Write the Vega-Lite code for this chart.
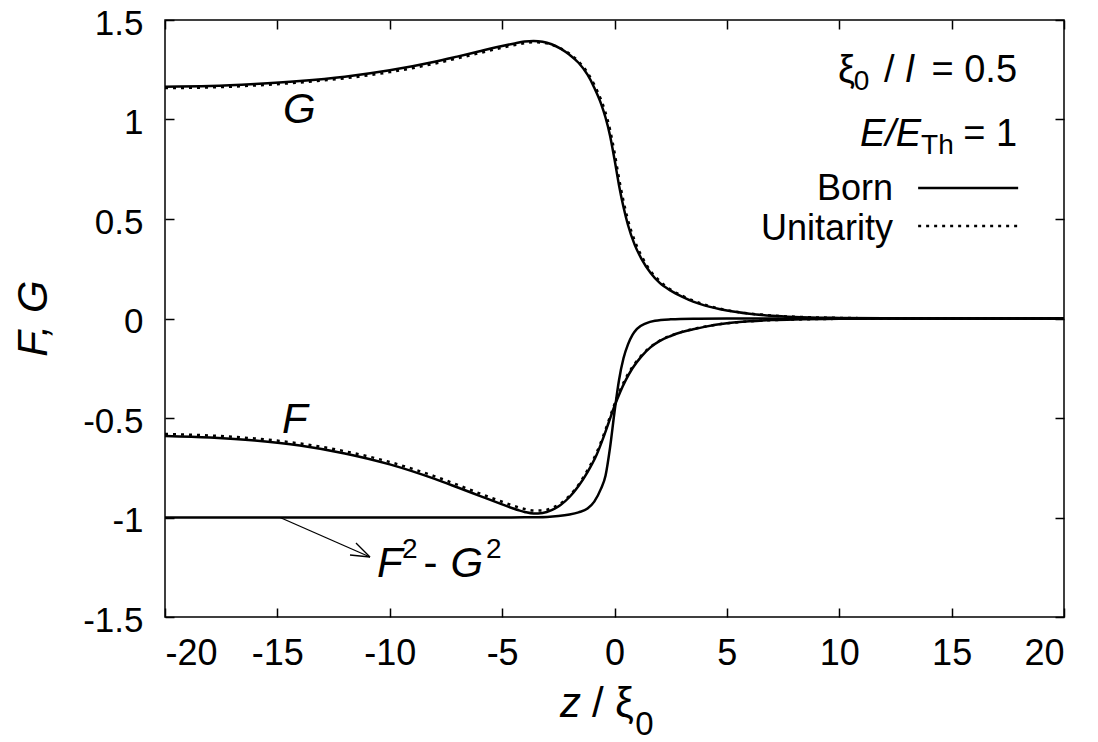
{
  "$schema": "https://vega.github.io/schema/vega-lite/v6.json",
  "width": 899,
  "height": 597,
  "autosize": {"type": "none"},
  "padding": {"left": 165, "top": 20, "right": 34, "bottom": 125},
  "background": "white",
  "config": {
    "view": {"stroke": "black", "strokeWidth": 1.5},
    "font": "Liberation Sans",
    "text": {"font": "Liberation Sans", "color": "black"},
    "axis": {"grid": false, "domain": false, "ticks": true, "tickSize": -9, "tickColor": "black", "tickWidth": 1.5, "labelFont": "Liberation Sans", "labelColor": "black"}
  },
  "resolve": {"axis": {"x": "independent", "y": "independent"}},
  "datasets": {
    "born": [
      {"s": "G", "z": -20, "v": 1.165}, {"s": "G", "z": -18, "v": 1.168}, {"s": "G", "z": -16, "v": 1.178}, {"s": "G", "z": -14, "v": 1.193},
      {"s": "G", "z": -12, "v": 1.215}, {"s": "G", "z": -10, "v": 1.247}, {"s": "G", "z": -8, "v": 1.29}, {"s": "G", "z": -7, "v": 1.316},
      {"s": "G", "z": -6, "v": 1.343}, {"s": "G", "z": -5, "v": 1.369}, {"s": "G", "z": -4.5, "v": 1.381}, {"s": "G", "z": -4, "v": 1.392},
      {"s": "G", "z": -3.6, "v": 1.395}, {"s": "G", "z": -3.2, "v": 1.391}, {"s": "G", "z": -2.8, "v": 1.378}, {"s": "G", "z": -2.4, "v": 1.356},
      {"s": "G", "z": -2.0, "v": 1.325}, {"s": "G", "z": -1.6, "v": 1.285}, {"s": "G", "z": -1.2, "v": 1.225}, {"s": "G", "z": -0.9, "v": 1.16},
      {"s": "G", "z": -0.6, "v": 1.08}, {"s": "G", "z": -0.4, "v": 1.01}, {"s": "G", "z": -0.2, "v": 0.92}, {"s": "G", "z": 0, "v": 0.8},
      {"s": "G", "z": 0.2, "v": 0.67}, {"s": "G", "z": 0.4, "v": 0.56}, {"s": "G", "z": 0.6, "v": 0.47}, {"s": "G", "z": 0.9, "v": 0.37},
      {"s": "G", "z": 1.2, "v": 0.3}, {"s": "G", "z": 1.6, "v": 0.23}, {"s": "G", "z": 2.0, "v": 0.18}, {"s": "G", "z": 2.5, "v": 0.14},
      {"s": "G", "z": 3, "v": 0.11}, {"s": "G", "z": 3.5, "v": 0.085}, {"s": "G", "z": 4, "v": 0.066}, {"s": "G", "z": 5, "v": 0.04},
      {"s": "G", "z": 6, "v": 0.024}, {"s": "G", "z": 7, "v": 0.014}, {"s": "G", "z": 8, "v": 0.008}, {"s": "G", "z": 10, "v": 0.003},
      {"s": "G", "z": 12, "v": 0.001}, {"s": "G", "z": 14, "v": 0}, {"s": "G", "z": 20, "v": 0},
      {"s": "F", "z": -20, "v": -0.59}, {"s": "F", "z": -18, "v": -0.598}, {"s": "F", "z": -16, "v": -0.613}, {"s": "F", "z": -14, "v": -0.638},
      {"s": "F", "z": -12, "v": -0.678}, {"s": "F", "z": -10, "v": -0.733}, {"s": "F", "z": -8, "v": -0.806}, {"s": "F", "z": -7, "v": -0.848},
      {"s": "F", "z": -6, "v": -0.891}, {"s": "F", "z": -5, "v": -0.934}, {"s": "F", "z": -4.5, "v": -0.955}, {"s": "F", "z": -4, "v": -0.972},
      {"s": "F", "z": -3.6, "v": -0.98}, {"s": "F", "z": -3.2, "v": -0.977}, {"s": "F", "z": -2.8, "v": -0.963}, {"s": "F", "z": -2.4, "v": -0.937},
      {"s": "F", "z": -2.0, "v": -0.897}, {"s": "F", "z": -1.6, "v": -0.842}, {"s": "F", "z": -1.2, "v": -0.772}, {"s": "F", "z": -0.8, "v": -0.686},
      {"s": "F", "z": -0.5, "v": -0.6}, {"s": "F", "z": -0.25, "v": -0.52}, {"s": "F", "z": 0, "v": -0.44}, {"s": "F", "z": 0.25, "v": -0.37},
      {"s": "F", "z": 0.5, "v": -0.31}, {"s": "F", "z": 0.8, "v": -0.25}, {"s": "F", "z": 1.2, "v": -0.19}, {"s": "F", "z": 1.6, "v": -0.145},
      {"s": "F", "z": 2, "v": -0.114}, {"s": "F", "z": 2.5, "v": -0.088}, {"s": "F", "z": 3, "v": -0.068}, {"s": "F", "z": 3.5, "v": -0.054},
      {"s": "F", "z": 4, "v": -0.042}, {"s": "F", "z": 5, "v": -0.024}, {"s": "F", "z": 6, "v": -0.014}, {"s": "F", "z": 7, "v": -0.008},
      {"s": "F", "z": 8, "v": -0.0045}, {"s": "F", "z": 10, "v": -0.0013}, {"s": "F", "z": 12, "v": -0.0004}, {"s": "F", "z": 14, "v": 0}, {"s": "F", "z": 20, "v": 0},
      {"s": "FG", "z": -20, "v": -1}, {"s": "FG", "z": -10, "v": -1}, {"s": "FG", "z": -6, "v": -1}, {"s": "FG", "z": -4, "v": -0.999},
      {"s": "FG", "z": -3, "v": -0.997}, {"s": "FG", "z": -2.5, "v": -0.993}, {"s": "FG", "z": -2, "v": -0.985}, {"s": "FG", "z": -1.6, "v": -0.974},
      {"s": "FG", "z": -1.2, "v": -0.955}, {"s": "FG", "z": -0.9, "v": -0.92}, {"s": "FG", "z": -0.6, "v": -0.855}, {"s": "FG", "z": -0.4, "v": -0.79},
      {"s": "FG", "z": -0.2, "v": -0.65}, {"s": "FG", "z": 0, "v": -0.47}, {"s": "FG", "z": 0.2, "v": -0.31}, {"s": "FG", "z": 0.4, "v": -0.2},
      {"s": "FG", "z": 0.6, "v": -0.13}, {"s": "FG", "z": 0.8, "v": -0.082}, {"s": "FG", "z": 1.0, "v": -0.052}, {"s": "FG", "z": 1.4, "v": -0.024},
      {"s": "FG", "z": 1.8, "v": -0.011}, {"s": "FG", "z": 2.5, "v": -0.004}, {"s": "FG", "z": 3.5, "v": -0.001}, {"s": "FG", "z": 5, "v": 0}, {"s": "FG", "z": 20, "v": 0}
    ],
    "unit": [
      {"s": "G", "z": -20, "v": 1.158}, {"s": "G", "z": -18, "v": 1.161}, {"s": "G", "z": -16, "v": 1.171}, {"s": "G", "z": -14, "v": 1.186},
      {"s": "G", "z": -12, "v": 1.207}, {"s": "G", "z": -10, "v": 1.238}, {"s": "G", "z": -8, "v": 1.281}, {"s": "G", "z": -7, "v": 1.307},
      {"s": "G", "z": -6, "v": 1.334}, {"s": "G", "z": -5, "v": 1.361}, {"s": "G", "z": -4.5, "v": 1.373}, {"s": "G", "z": -4, "v": 1.384},
      {"s": "G", "z": -3.6, "v": 1.388}, {"s": "G", "z": -3.2, "v": 1.386}, {"s": "G", "z": -2.8, "v": 1.376}, {"s": "G", "z": -2.4, "v": 1.357},
      {"s": "G", "z": -2.0, "v": 1.33}, {"s": "G", "z": -1.6, "v": 1.292}, {"s": "G", "z": -1.2, "v": 1.235}, {"s": "G", "z": -0.9, "v": 1.175},
      {"s": "G", "z": -0.6, "v": 1.1}, {"s": "G", "z": -0.4, "v": 1.035}, {"s": "G", "z": -0.2, "v": 0.95}, {"s": "G", "z": 0, "v": 0.835},
      {"s": "G", "z": 0.2, "v": 0.705}, {"s": "G", "z": 0.4, "v": 0.59}, {"s": "G", "z": 0.6, "v": 0.495}, {"s": "G", "z": 0.9, "v": 0.39},
      {"s": "G", "z": 1.2, "v": 0.315}, {"s": "G", "z": 1.6, "v": 0.24}, {"s": "G", "z": 2.0, "v": 0.19}, {"s": "G", "z": 2.5, "v": 0.145},
      {"s": "G", "z": 3, "v": 0.115}, {"s": "G", "z": 3.5, "v": 0.09}, {"s": "G", "z": 4, "v": 0.07}, {"s": "G", "z": 5, "v": 0.042},
      {"s": "G", "z": 6, "v": 0.025}, {"s": "G", "z": 7, "v": 0.015}, {"s": "G", "z": 8, "v": 0.009}, {"s": "G", "z": 10, "v": 0.003},
      {"s": "G", "z": 12, "v": 0.001}, {"s": "G", "z": 14, "v": 0}, {"s": "G", "z": 20, "v": 0},
      {"s": "F", "z": -20, "v": -0.58}, {"s": "F", "z": -18, "v": -0.588}, {"s": "F", "z": -16, "v": -0.603}, {"s": "F", "z": -14, "v": -0.628},
      {"s": "F", "z": -12, "v": -0.667}, {"s": "F", "z": -10, "v": -0.721}, {"s": "F", "z": -8, "v": -0.793}, {"s": "F", "z": -7, "v": -0.835},
      {"s": "F", "z": -6, "v": -0.879}, {"s": "F", "z": -5, "v": -0.921}, {"s": "F", "z": -4.5, "v": -0.941}, {"s": "F", "z": -4, "v": -0.957},
      {"s": "F", "z": -3.6, "v": -0.965}, {"s": "F", "z": -3.2, "v": -0.965}, {"s": "F", "z": -2.8, "v": -0.953}, {"s": "F", "z": -2.4, "v": -0.93},
      {"s": "F", "z": -2.0, "v": -0.89}, {"s": "F", "z": -1.6, "v": -0.835}, {"s": "F", "z": -1.2, "v": -0.762}, {"s": "F", "z": -0.8, "v": -0.675},
      {"s": "F", "z": -0.5, "v": -0.59}, {"s": "F", "z": -0.25, "v": -0.51}, {"s": "F", "z": 0, "v": -0.43}, {"s": "F", "z": 0.25, "v": -0.36},
      {"s": "F", "z": 0.5, "v": -0.3}, {"s": "F", "z": 0.8, "v": -0.243}, {"s": "F", "z": 1.2, "v": -0.185}, {"s": "F", "z": 1.6, "v": -0.142},
      {"s": "F", "z": 2, "v": -0.112}, {"s": "F", "z": 2.5, "v": -0.086}, {"s": "F", "z": 3, "v": -0.067}, {"s": "F", "z": 3.5, "v": -0.053},
      {"s": "F", "z": 4, "v": -0.041}, {"s": "F", "z": 5, "v": -0.024}, {"s": "F", "z": 6, "v": -0.014}, {"s": "F", "z": 7, "v": -0.008},
      {"s": "F", "z": 8, "v": -0.005}, {"s": "F", "z": 10, "v": -0.0015}, {"s": "F", "z": 12, "v": -0.0005}, {"s": "F", "z": 14, "v": 0}, {"s": "F", "z": 20, "v": 0}
    ]
  },
  "layer": [
    {
      "data": {"name": "born"},
      "mark": {"type": "line", "interpolate": "monotone", "color": "black", "strokeWidth": 2.5},
      "encoding": {
        "x": {"field": "z", "type": "quantitative", "scale": {"domain": [-20, 20], "nice": false, "zero": false},
              "axis": {"orient": "bottom", "values": [-20, -15, -10, -5, 0, 5, 10, 15, 20], "labelFontSize": 36, "labelPadding": 28, "title": null,
                       "labelExpr": "datum.value < 0 ? '-' + format(-datum.value, '~g') : format(datum.value, '~g')"}},
        "y": {"field": "v", "type": "quantitative", "scale": {"domain": [-1.5, 1.5], "nice": false, "zero": false},
              "axis": {"orient": "left", "values": [-1.5, -1, -0.5, 0, 0.5, 1, 1.5], "labelFontSize": 35, "labelPadding": 31, "labelOffset": 3, "title": null,
                       "labelExpr": "datum.value < 0 ? '-' + format(-datum.value, '~g') : format(datum.value, '~g')"}},
        "detail": {"field": "s"}
      }
    },
    {
      "data": {"name": "unit"},
      "mark": {"type": "line", "interpolate": "monotone", "color": "black", "strokeWidth": 2.5, "strokeDash": [3, 5]},
      "encoding": {
        "x": {"field": "z", "type": "quantitative", "scale": {"domain": [-20, 20], "nice": false, "zero": false},
              "axis": {"orient": "top", "values": [-20, -15, -10, -5, 0, 5, 10, 15, 20], "labels": false, "title": null}},
        "y": {"field": "v", "type": "quantitative", "scale": {"domain": [-1.5, 1.5], "nice": false, "zero": false},
              "axis": {"orient": "right", "values": [-1.5, -1, -0.5, 0, 0.5, 1, 1.5], "labels": false, "title": null}},
        "detail": {"field": "s"}
      }
    },
    {
      "data": {"values": [{"a": 13.51, "b": 17.96, "y": 0.6558}]},
      "mark": {"type": "rule", "color": "black", "strokeWidth": 2.5},
      "encoding": {
        "x": {"field": "a", "type": "quantitative", "scale": {"domain": [-20, 20], "nice": false, "zero": false}, "axis": null},
        "x2": {"field": "b"},
        "y": {"field": "y", "type": "quantitative", "scale": {"domain": [-1.5, 1.5], "nice": false, "zero": false}, "axis": null}
      }
    },
    {
      "data": {"values": [{"a": 13.51, "b": 17.96, "y": 0.4648}]},
      "mark": {"type": "rule", "color": "black", "strokeWidth": 2.5, "strokeDash": [3, 5]},
      "encoding": {
        "x": {"field": "a", "type": "quantitative", "scale": {"domain": [-20, 20], "nice": false, "zero": false}, "axis": null},
        "x2": {"field": "b"},
        "y": {"field": "y", "type": "quantitative", "scale": {"domain": [-1.5, 1.5], "nice": false, "zero": false}, "axis": null}
      }
    },
    {
      "data": {"values": [
        {"a": -14.88, "b": -10.879, "c": -1.0, "d": -1.1985},
        {"a": -11.769, "b": -10.879, "c": -1.1884, "d": -1.1985},
        {"a": -11.502, "b": -10.879, "c": -1.128, "d": -1.1985}
      ]},
      "mark": {"type": "rule", "color": "black", "strokeWidth": 1.3},
      "encoding": {
        "x": {"field": "a", "type": "quantitative", "scale": {"domain": [-20, 20], "nice": false, "zero": false}, "axis": null},
        "x2": {"field": "b"},
        "y": {"field": "c", "type": "quantitative", "scale": {"domain": [-1.5, 1.5], "nice": false, "zero": false}, "axis": null},
        "y2": {"field": "d"}
      }
    },
    {
      "data": {"values": [
        {"t": "= 0.5", "z": 17.91, "y": 1.188},
        {"t": "= 1", "z": 17.91, "y": 0.8668}
      ]},
      "mark": {"type": "text", "align": "right", "baseline": "alphabetic", "fontSize": 38, "font": "Liberation Sans", "color": "black"},
      "encoding": {
        "x": {"field": "z", "type": "quantitative", "scale": {"domain": [-20, 20], "nice": false, "zero": false}, "axis": null},
        "y": {"field": "y", "type": "quantitative", "scale": {"domain": [-1.5, 1.5], "nice": false, "zero": false}, "axis": null},
        "text": {"field": "t"}
      }
    },
    {
      "data": {"values": [
        {"t": "Born", "z": 12.39, "y": 0.5955},
        {"t": "Unitarity", "z": 12.39, "y": 0.3945}
      ]},
      "mark": {"type": "text", "align": "right", "baseline": "alphabetic", "fontSize": 36, "font": "Liberation Sans", "color": "black"},
      "encoding": {
        "x": {"field": "z", "type": "quantitative", "scale": {"domain": [-20, 20], "nice": false, "zero": false}, "axis": null},
        "y": {"field": "y", "type": "quantitative", "scale": {"domain": [-1.5, 1.5], "nice": false, "zero": false}, "axis": null},
        "text": {"field": "t"}
      }
    },
    {
      "data": {"values": [
        {"t": "ξ", "z": 9.945, "y": 1.188},
        {"t": "/", "z": 11.99, "y": 1.188}
      ]},
      "mark": {"type": "text", "align": "left", "baseline": "alphabetic", "fontSize": 38, "font": "Liberation Sans", "color": "black"},
      "encoding": {
        "x": {"field": "z", "type": "quantitative", "scale": {"domain": [-20, 20], "nice": false, "zero": false}, "axis": null},
        "y": {"field": "y", "type": "quantitative", "scale": {"domain": [-1.5, 1.5], "nice": false, "zero": false}, "axis": null},
        "text": {"field": "t"}
      }
    },
    {
      "data": {"values": [
        {"t": "l", "z": 12.95, "y": 1.188},
        {"t": "E/E", "z": 10.92, "y": 0.8668}
      ]},
      "mark": {"type": "text", "align": "left", "baseline": "alphabetic", "fontSize": 38, "fontStyle": "italic", "font": "Liberation Sans", "color": "black"},
      "encoding": {
        "x": {"field": "z", "type": "quantitative", "scale": {"domain": [-20, 20], "nice": false, "zero": false}, "axis": null},
        "y": {"field": "y", "type": "quantitative", "scale": {"domain": [-1.5, 1.5], "nice": false, "zero": false}, "axis": null},
        "text": {"field": "t"}
      }
    },
    {
      "data": {"values": [
        {"t": "0", "z": 10.65, "y": 1.148},
        {"t": "Th", "z": 13.64, "y": 0.8266},
        {"t": "2", "z": -9.45, "y": -1.2035},
        {"t": "2", "z": -5.72, "y": -1.2035}
      ]},
      "mark": {"type": "text", "align": "left", "baseline": "alphabetic", "fontSize": 28, "font": "Liberation Sans", "color": "black"},
      "encoding": {
        "x": {"field": "z", "type": "quantitative", "scale": {"domain": [-20, 20], "nice": false, "zero": false}, "axis": null},
        "y": {"field": "y", "type": "quantitative", "scale": {"domain": [-1.5, 1.5], "nice": false, "zero": false}, "axis": null},
        "text": {"field": "t"}
      }
    },
    {
      "data": {"values": [
        {"t": "G", "z": -14.75, "y": 0.982},
        {"t": "F", "z": -14.79, "y": -0.5754},
        {"t": "F", "z": -10.567, "y": -1.299},
        {"t": "G", "z": -7.3, "y": -1.299},
        {"t": "z", "z": -2.425, "y": -2.0025}
      ]},
      "mark": {"type": "text", "align": "left", "baseline": "alphabetic", "fontSize": 42, "fontStyle": "italic", "font": "Liberation Sans", "color": "black"},
      "encoding": {
        "x": {"field": "z", "type": "quantitative", "scale": {"domain": [-20, 20], "nice": false, "zero": false}, "axis": null},
        "y": {"field": "y", "type": "quantitative", "scale": {"domain": [-1.5, 1.5], "nice": false, "zero": false}, "axis": null},
        "text": {"field": "t"}
      }
    },
    {
      "data": {"values": [
        {"t": "-", "z": -8.5, "y": -1.299},
        {"t": "/", "z": -1.001, "y": -2.0025},
        {"t": "ξ", "z": 0.0223, "y": -2.0025}
      ]},
      "mark": {"type": "text", "align": "left", "baseline": "alphabetic", "fontSize": 42, "font": "Liberation Sans", "color": "black"},
      "encoding": {
        "x": {"field": "z", "type": "quantitative", "scale": {"domain": [-20, 20], "nice": false, "zero": false}, "axis": null},
        "y": {"field": "y", "type": "quantitative", "scale": {"domain": [-1.5, 1.5], "nice": false, "zero": false}, "axis": null},
        "text": {"field": "t"}
      }
    },
    {
      "data": {"values": [
        {"t": "0", "z": 0.92, "y": -2.093}
      ]},
      "mark": {"type": "text", "align": "left", "baseline": "alphabetic", "fontSize": 33, "font": "Liberation Sans", "color": "black"},
      "encoding": {
        "x": {"field": "z", "type": "quantitative", "scale": {"domain": [-20, 20], "nice": false, "zero": false}, "axis": null},
        "y": {"field": "y", "type": "quantitative", "scale": {"domain": [-1.5, 1.5], "nice": false, "zero": false}, "axis": null},
        "text": {"field": "t"}
      }
    },
    {
      "data": {"values": [
        {"t": "F, G", "z": -25.25, "y": 0.0}
      ]},
      "mark": {"type": "text", "align": "center", "baseline": "alphabetic", "angle": 270, "fontSize": 42, "fontStyle": "italic", "font": "Liberation Sans", "color": "black"},
      "encoding": {
        "x": {"field": "z", "type": "quantitative", "scale": {"domain": [-20, 20], "nice": false, "zero": false}, "axis": null},
        "y": {"field": "y", "type": "quantitative", "scale": {"domain": [-1.5, 1.5], "nice": false, "zero": false}, "axis": null},
        "text": {"field": "t"}
      }
    }
  ]
}
